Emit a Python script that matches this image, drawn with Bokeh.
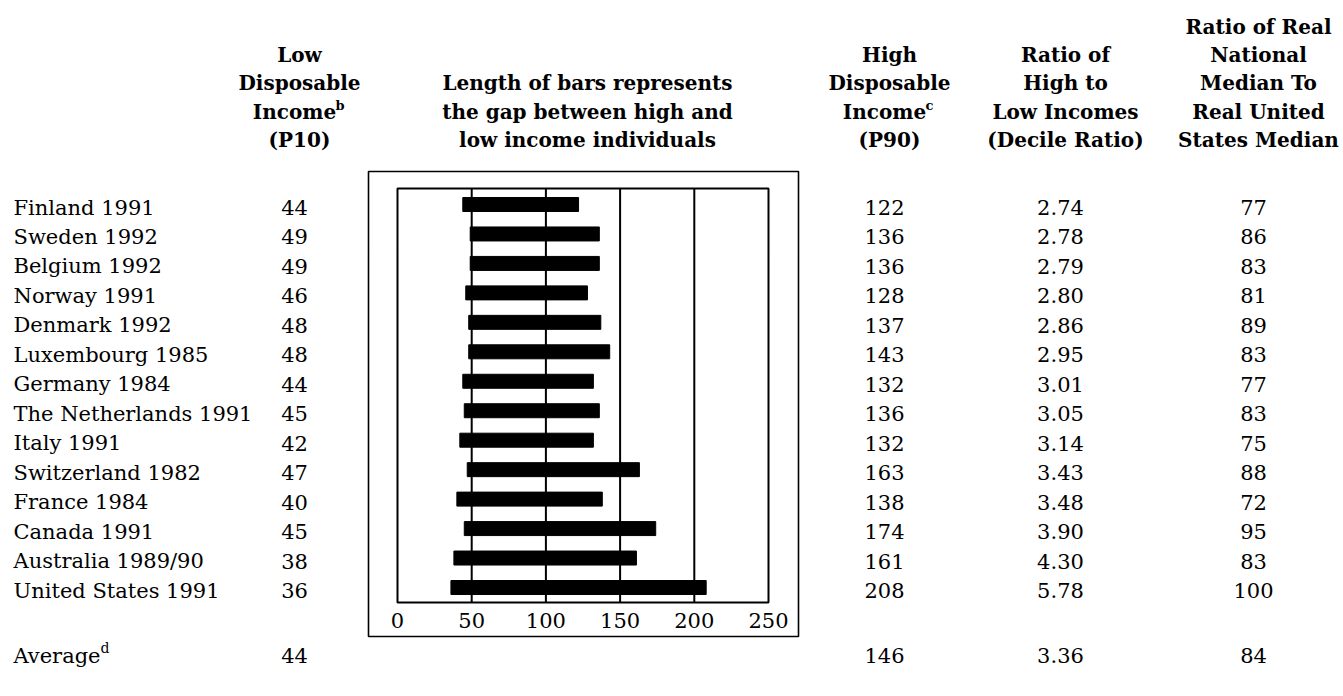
from bokeh.plotting import figure
from bokeh.models import ColumnDataSource, Range1d, FixedTicker, LinearAxis
from bokeh.core.properties import value
from bokeh.embed import file_html
from bokeh.resources import INLINE

# ---------------- data ----------------
countries = ["Finland 1991", "Sweden 1992", "Belgium 1992", "Norway 1991", "Denmark 1992",
             "Luxembourg 1985", "Germany 1984", "The Netherlands 1991", "Italy 1991",
             "Switzerland 1982", "France 1984", "Canada 1991", "Australia 1989/90",
             "United States 1991"]
p10 = [44, 49, 49, 46, 48, 48, 44, 45, 42, 47, 40, 45, 38, 36]
p90 = [122, 136, 136, 128, 137, 143, 132, 136, 132, 163, 138, 174, 161, 208]
decile = ["2.74", "2.78", "2.79", "2.80", "2.86", "2.95", "3.01", "3.05", "3.14",
          "3.43", "3.48", "3.90", "4.30", "5.78"]
median_ratio = [77, 86, 83, 81, 89, 83, 77, 83, 75, 88, 72, 95, 83, 100]
avg_label = "Average"
avg_p10 = 44
avg_p90 = 146
avg_decile = "3.36"
avg_median = 84
tick_values = [0, 50, 100, 150, 200, 250]

hdr_p10 = ["Low", "Disposable", "Income", "(P10)"]
hdr_bar = ["Length of bars represents", "the gap between high and", "low income individuals"]
hdr_p90 = ["High", "Disposable", "Income", "(P90)"]
hdr_dec = ["Ratio of", "High to", "Low Incomes", "(Decile Ratio)"]
hdr_med = ["Ratio of Real", "National", "Median To", "Real United", "States Median"]

# ---------------- layout (page pixels) ----------------
W, H = 1343, 696
FR_L, FR_R, FR_T, FR_B = 397, 768, 188, 602      # inner plot box
OUT_L, OUT_R, OUT_T, OUT_B = 368, 798, 171, 636  # outer box
ROW0_Y, ROWN_Y = 204, 587                         # first / last bar centres
TEXT_SHIFT = 3                                    # text sits a little below bar centre
AVG_Y = 655
HDR_Y = [26, 54, 82, 111, 139]
COL_NAME = 13
COL_P10, HCOL_P10 = 294, 299
HCOL_BAR = 587
COL_P90, HCOL_P90 = 884, 889
COL_DEC, HCOL_DEC = 1060, 1065
COL_MED, HCOL_MED = 1253, 1258

BODY_FONT = "DejaVu Serif"
BODY_SIZE = "21px"
HEAD_FONT = "DejaVu Serif"
HEAD_SIZE = "20px"
LW_IN = 2
LW_OUT = 1.6

n = len(countries)
rows = list(range(n))
row_step = (ROWN_Y - ROW0_Y) / (n - 1)
x_scale = (FR_R - FR_L) / (tick_values[-1] - tick_values[0])


def dx(px):  # page pixel -> data x
    return tick_values[0] + (px - FR_L) / x_scale


def dy(py):  # page pixel -> data y (row units)
    return (py - ROW0_Y) / row_step


p = figure(width=W, height=H, output_backend="svg", toolbar_location=None, title=None,
           x_range=Range1d(dx(0), dx(W)), y_range=Range1d(dy(H), dy(0)),
           x_axis_location=None, y_axis_location=None,
           min_border=0, min_border_left=0, min_border_right=0,
           min_border_top=0, min_border_bottom=0)
p.outline_line_color = None
p.background_fill_color = "white"
p.border_fill_color = "white"
p.xgrid.visible = False
p.ygrid.visible = False

box_top, box_bot = dy(FR_T), dy(FR_B)

# outer and inner boxes
p.quad(left=dx(OUT_L), right=dx(OUT_R), top=dy(OUT_T), bottom=dy(OUT_B),
       fill_color=None, line_color="black", line_width=LW_OUT)
p.quad(left=tick_values[0], right=tick_values[-1], top=box_top, bottom=box_bot,
       fill_color=None, line_color="black", line_width=LW_IN)
# vertical grid lines at inner ticks
inner = tick_values[1:-1]
p.segment(x0=inner, x1=inner, y0=[box_top] * len(inner), y1=[box_bot] * len(inner),
          line_color="black", line_width=LW_IN)

# axis fixed at the bottom of the inner box
ax = LinearAxis(fixed_location=box_bot, ticker=FixedTicker(ticks=tick_values))
ax.axis_line_color = None
ax.major_tick_line_color = None
ax.minor_tick_line_color = None
ax.major_label_standoff = 4
ax.major_label_text_font = BODY_FONT
ax.major_label_text_font_size = BODY_SIZE
ax.major_label_text_color = "black"
p.add_layout(ax, "below")

shift = TEXT_SHIFT / row_step
src = ColumnDataSource(dict(row=rows, ty=[r + shift for r in rows], country=countries,
                            p10=p10, p90=p90,
                            p10s=[str(v) for v in p10], p90s=[str(v) for v in p90],
                            dec=decile, med=[str(v) for v in median_ratio]))

p.hbar(y="row", left="p10", right="p90", height=0.475, color="black", source=src)

# table body
for field, col, align in [("country", COL_NAME, "left"), ("p10s", COL_P10, "center"),
                          ("p90s", COL_P90, "center"), ("dec", COL_DEC, "center"),
                          ("med", COL_MED, "center")]:
    p.text(x=dx(col), y="ty", text=field, source=src, text_align=align,
           text_baseline="middle", text_font=value(BODY_FONT), text_font_size=BODY_SIZE,
           text_color="black")


def lab(text, px, py, align="center", font=BODY_FONT, size=BODY_SIZE, style="normal"):
    p.text(x=[dx(px)], y=[dy(py)], text=[text], text_align=align, text_baseline="middle",
           text_font=value(font), text_font_size=size, text_font_style=style,
           text_color="black")


# average row
lab(avg_label, COL_NAME, AVG_Y, align="left")
lab("d", COL_NAME + 87, AVG_Y - 8, align="left", size="14px")
lab(str(avg_p10), COL_P10, AVG_Y)
lab(str(avg_p90), COL_P90, AVG_Y)
lab(avg_decile, COL_DEC, AVG_Y)
lab(str(avg_median), COL_MED, AVG_Y)


# headers
def header(lines, cx, sup=None):
    start = len(HDR_Y) - len(lines)
    for i, t in enumerate(lines):
        y = HDR_Y[start + i]
        if sup is not None and t == "Income":
            lab(t, cx - 5, y, font=HEAD_FONT, size=HEAD_SIZE, style="bold")
            lab(sup, cx + 36, y - 6, align="left", font=HEAD_FONT, size="13px", style="bold")
        else:
            lab(t, cx, y, font=HEAD_FONT, size=HEAD_SIZE, style="bold")


header(hdr_p10, HCOL_P10, sup="b")
header(hdr_bar, HCOL_BAR)
header(hdr_p90, HCOL_P90, sup="c")
header(hdr_dec, HCOL_DEC)
header(hdr_med, HCOL_MED)

open("out.html", "w").write(file_html(p, INLINE))
